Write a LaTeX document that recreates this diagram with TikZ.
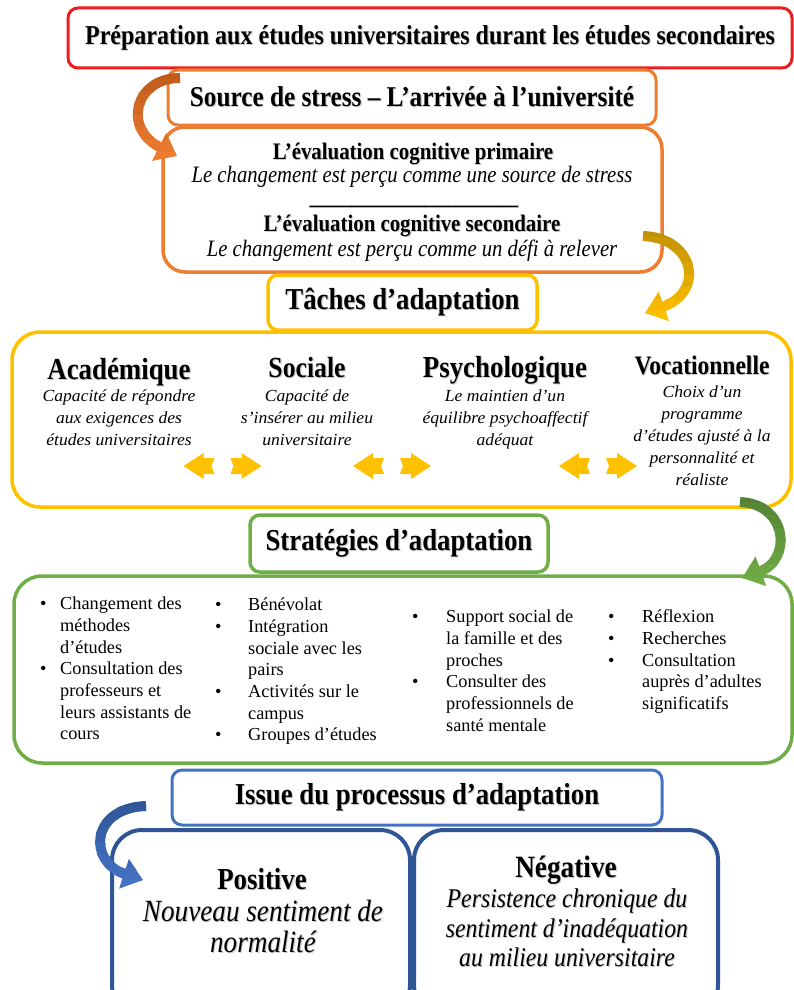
\documentclass[tikz,border=0pt]{standalone}
\usepackage{fontspec}
\setmainfont{Liberation Serif}
\newfontfamily\cnd[FakeStretch=0.88]{Liberation Serif}
\newfontfamily\wde[FakeStretch=1.04]{Liberation Serif}
\usetikzlibrary{arrows.meta}
\definecolor{cRed}{HTML}{EE1C1C}
\definecolor{cOrange}{HTML}{ED7D31}
\definecolor{cOrangeD}{HTML}{C05A18}
\definecolor{cYellow}{HTML}{FFC000}
\definecolor{cGold}{HTML}{BF9000}
\definecolor{cGreen}{HTML}{70AD47}
\definecolor{cGreenD}{HTML}{548235}
\definecolor{cBlue}{HTML}{4472C4}
\definecolor{cBlueD}{HTML}{2F5597}
\newcommand\shd[1]{\leavevmode\rlap{\kern1.1pt\raisebox{-1.1pt}{\textcolor{black!20}{#1}}}#1}
\newcommand\gradarrow[5]{%
  \foreach \k in {0,...,7}{%
    \begin{scope}
      \pgfmathsetmacro\ya{#4+(#5-#4)*\k/8-0.7}
      \pgfmathsetmacro\yb{#4+(#5-#4)*(\k+1)/8+0.7}
      \pgfmathtruncatemacro\pct{100-\k*100/7}
      \clip (-10,\ya) rectangle (810,\yb);
      \draw[carrow, draw=#2!\pct!#3] #1;
    \end{scope}}}
\newcommand\dblarrow[2]{%
  \begin{scope}[shift={(#1,#2)}]
    \fill[cYellow] (-39,0) -- (-19,-13) -- (-19,-8) -- (-8,-8) -- (-11,0) -- (-8,8) -- (-19,8) -- (-19,13) -- cycle;
    \fill[cYellow] (39,0) -- (19,-13) -- (19,-8) -- (8,-8) -- (11,0) -- (8,8) -- (19,8) -- (19,13) -- cycle;
  \end{scope}}
\begin{document}
\begin{tikzpicture}[x=1pt,y=-1pt,
  box/.style={draw, inner sep=0pt, outer sep=0pt},
  hd/.style={font={\cnd\bfseries\fontsize{30.4}{34}\selectfont}},
  colh/.style={font={\cnd\bfseries\fontsize{30.5}{34}\selectfont}, anchor=base, inner sep=0pt},
  colt/.style={font={\wde\itshape\fontsize{16.9}{22}\selectfont}, anchor=base, inner sep=0pt},
  evb/.style={font={\cnd\bfseries\fontsize{23.7}{26}\selectfont}, anchor=base, inner sep=0pt},
  evi/.style={font={\cnd\itshape\fontsize{23.5}{26}\selectfont}, anchor=base, inner sep=0pt},
  bul/.style={font={\fontsize{18.3}{21.7}\selectfont}, anchor=north west, inner sep=0pt},
  carrow/.style={line width=10pt, -{Triangle[width=30pt,length=20pt]}}]
\useasboundingbox (0,0) rectangle (794,990);
\fill[white] (0,0) rectangle (794,990);

% boxes
\node[box, draw=cRed, line width=3pt, rounded corners=10pt, minimum width=724pt, minimum height=60pt,
  font={\cnd\bfseries\fontsize{27.3}{30}\selectfont}] (prep) at (430,38)
  {\shd{Préparation aux études universitaires durant les études secondaires}};
\node[box, draw=cOrange, line width=3pt, rounded corners=10pt, minimum width=488pt, minimum height=55pt,
  font={\cnd\bfseries\fontsize{28.7}{31}\selectfont}] (src) at (412,97.5)
  {\shd{Source de stress – L’arrivée à l’université}};
\node[box, draw=cOrange, line width=3.5pt, rounded corners=22pt, minimum width=499pt, minimum height=145pt] (eval) at (412.5,199.5) {};
\node[box, draw=cYellow, line width=3.5pt, rounded corners=10pt, minimum width=269pt, minimum height=55pt, hd] (tach) at (402.5,302.5)
  {\shd{Tâches d’adaptation}};
\node[box, draw=cYellow, line width=3.5pt, rounded corners=28pt, minimum width=779pt, minimum height=175pt] (tbig) at (401.5,419.5) {};
\node[box, draw=cGreen, line width=3.5pt, rounded corners=10pt, minimum width=298pt, minimum height=57pt, hd] (strat) at (399,543.5)
  {\shd{Stratégies d’adaptation}};
\node[box, draw=cGreen, line width=3.5pt, rounded corners=28pt, minimum width=778pt, minimum height=187pt] (sbig) at (403,669.5) {};
\node[box, draw=cBlue, line width=3pt, rounded corners=10pt, minimum width=490pt, minimum height=55pt, hd] (issue) at (417,797.5)
  {\shd{Issue du processus d’adaptation}};
\node[box, draw=cBlueD, line width=4pt, rounded corners=30pt, minimum width=298pt, minimum height=185pt] (pos) at (261,922.5) {};
\node[box, draw=cBlueD, line width=4pt, rounded corners=30pt, minimum width=304pt, minimum height=185pt] (neg) at (566,922.5) {};

% evaluation texts
\node[evb] (ev1) at (413,159) {\shd{L’évaluation cognitive primaire}};
\node[evi] (ev2) at (412,182) {Le changement est perçu comme une source de stress};
\node[evb] (evr) at (414,204) {\_\_\_\_\_\_\_\_\_\_\_\_\_\_\_\_\_\_\_\_};
\node[evb] (ev3) at (412,231) {\shd{L’évaluation cognitive secondaire}};
\node[evi] (ev4) at (412,256) {Le changement est perçu comme un défi à relever};

% task columns
\node[colh] (acad) at (119,379) {\shd{Académique}};
\foreach \t [count=\i from 0] in {Capacité de répondre,aux exigences des,études universitaires}
  \node[colt] (acad\i) at (119,401+22*\i) {\t};
\node[colh, font={\cnd\bfseries\fontsize{29.2}{34}\selectfont}] (soc) at (307,377) {\shd{Sociale}};
\foreach \t [count=\i from 0] in {Capacité de,s’insérer au milieu,universitaire}
  \node[colt] (soc\i) at (307,401+22*\i) {\t};
\node[colh] (psy) at (505,377) {\shd{Psychologique}};
\foreach \t [count=\i from 0] in {Le maintien d’un,équilibre psychoaffectif,adéquat}
  \node[colt] (psy\i) at (505,401+22*\i) {\t};
\node[colh, font={\cnd\bfseries\fontsize{26.7}{30}\selectfont}] (voc) at (702,374) {\shd{Vocationnelle}};
\foreach \t [count=\i from 0] in {Choix d’un,programme,d’études ajusté à la,personnalité et,réaliste}
  \node[colt] (voc\i) at (702,397+22*\i) {\t};

\dblarrow{222.5}{466}
\dblarrow{392}{466}
\dblarrow{598}{466}

% strategies
\node[bul] (s1) at (40,594.3) {\begin{tabular}{@{}p{20pt}@{}l@{}}
• & Changement des\\ & méthodes\\ & d’études\\ • & Consultation des\\ & professeurs et\\ & leurs assistants de\\ & cours\end{tabular}};
\node[bul] (s2) at (215,595.3) {\begin{tabular}{@{}p{33pt}@{}l@{}}
• & Bénévolat\\ • & Intégration\\ & sociale avec les\\ & pairs\\ • & Activités sur le\\ & campus\\ • & Groupes d’études\end{tabular}};
\node[bul] (s3) at (412,607.3) {\begin{tabular}{@{}p{34pt}@{}l@{}}
• & Support social de\\ & la famille et des\\ & proches\\ • & Consulter des\\ & professionnels de\\ & santé mentale\end{tabular}};
\node[bul] (s4) at (608,607.3) {\begin{tabular}{@{}p{34pt}@{}l@{}}
• & Réflexion\\ • & Recherches\\ • & Consultation\\ & auprès d’adultes\\ & significatifs\end{tabular}};

% outcomes
\node[colh] (posh) at (262,889) {\shd{Positive}};
\node[colh, font={\cnd\itshape\fontsize{30.9}{34}\selectfont}] (posa) at (263,921) {\shd{Nouveau sentiment de}};
\node[colh, font={\cnd\itshape\fontsize{30.9}{34}\selectfont}] (posb) at (263,952) {\shd{normalité}};
\node[colh, font={\cnd\bfseries\fontsize{31}{34}\selectfont}] (negh) at (566,877) {\shd{Négative}};
\node[colh, font={\cnd\itshape\fontsize{27}{30}\selectfont}] (nega) at (567,907) {\shd{Persistence chronique du}};
\node[colh, font={\cnd\itshape\fontsize{27}{30}\selectfont}] (negb) at (567,937) {\shd{sentiment d’inadéquation}};
\node[colh, font={\cnd\itshape\fontsize{27}{30}\selectfont}] (negc) at (567,966) {\shd{au milieu universitaire}};

% curved arrows
\coordinate (oS) at (180,78);
\coordinate (oE) at (177,156);
\coordinate (gS) at (643,236);
\coordinate (gE) at (645,313);
\coordinate (vS) at (740,502);
\coordinate (vE) at (742,578);
\coordinate (bS) at (146,806);
\coordinate (bE) at (143,880);
\gradarrow{(oS) .. controls (135,78) and (122,128) .. (oE)}{cOrangeD}{cOrange}{68}{165}
\gradarrow{(gS) .. controls (695,238) and (705,292) .. (gE)}{cGold}{cYellow}{226}{325}
\gradarrow{(vS) .. controls (788,504) and (792,560) .. (vE)}{cGreenD}{cGreen}{492}{590}
\gradarrow{(bS) .. controls (90,808) and (88,862) .. (bE)}{cBlueD}{cBlue}{795}{892}
\end{tikzpicture}
\end{document}
